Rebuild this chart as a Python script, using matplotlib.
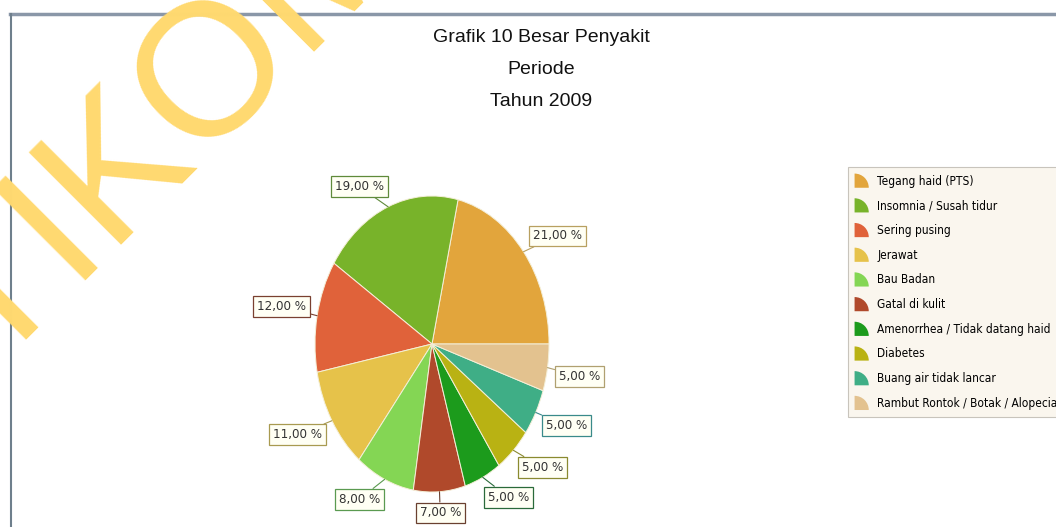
import matplotlib
matplotlib.use('Agg')
import numpy as np
import matplotlib.pyplot as plt
from matplotlib import font_manager
from matplotlib.font_manager import FontProperties
from matplotlib.patches import Wedge
from matplotlib.legend_handler import HandlerPatch
from matplotlib.lines import Line2D

# Data
penyakit = ['Tegang haid (PTS)', 'Insomnia / Susah tidur', 'Sering pusing', 'Jerawat',
            'Bau Badan', 'Gatal di kulit', 'Amenorrhea / Tidak datang haid', 'Diabetes',
            'Buang air tidak lancar', 'Rambut Rontok / Botak / Alopecia']
persen = [21, 19, 12, 11, 8, 7, 5, 5, 5, 5]
warna = ['#e2a53c', '#78b32a', '#e0623a', '#e6c24a', '#84d654',
         '#b0492b', '#1c9b1c', '#b9b213', '#3fae86', '#e3c28f']
warna_tepi = ['#b8a060', '#5f8a3a', '#7a4030', '#a89a50', '#5a9a50',
              '#6a4030', '#2a6a3a', '#8a8a30', '#3a8a8a', '#b0a070']
judul = ['Grafik 10 Besar Penyakit', 'Periode', 'Tahun 2009']

W, H = 1056, 527

# look for a narrow font (the original uses a condensed Tahoma-like face)
narrow_file = None
for f in font_manager.fontManager.ttflist:
    if f.style != 'normal' or f.weight not in (400, 'normal', 'regular'):
        continue
    if 'Narrow' in f.name or 'Condensed' in f.name or f.stretch in ('condensed', 'semi-condensed'):
        if narrow_file is None or 'Liberation' in f.name:
            narrow_file = f.fname
if narrow_file:
    fp_label = FontProperties(fname=narrow_file, size=9.5)
    fp_leg = FontProperties(fname=narrow_file, size=8.6)
else:
    fp_label = FontProperties(family='Roboto', size=8.5)
    fp_leg = FontProperties(family='Roboto', size=8)

fig = plt.figure(figsize=(W / 100, H / 100), dpi=100)
fig.patch.set_facecolor('white')

# pie axes (stretched -> elliptical pie like the original)
ax = fig.add_axes([315 / W, 1 - 492 / H, 234 / W, 296 / H])
wedges, _ = ax.pie(persen, colors=warna, startangle=0, counterclock=True,
                   wedgeprops=dict(edgecolor='#f4efd8', linewidth=0.7))
ax.set_aspect('auto')
ax.set_xlim(-1, 1)
ax.set_ylim(-1, 1)

# percentage labels with leader lines
for w, p, ec in zip(wedges, persen, warna_tepi):
    ang = np.deg2rad((w.theta1 + w.theta2) / 2)
    c, s = np.cos(ang), np.sin(ang)
    if c > 0.15:
        ha = 'left'
    elif c < -0.15:
        ha = 'right'
    else:
        ha = 'center'
    va = 'bottom' if s > 0 else 'top'
    ax.annotate(f'{p},00 %', xy=(c, s), xytext=(1.1 * c, 1.1 * s),
                ha=ha, va=va, fontproperties=fp_label, color='#333333',
                bbox=dict(boxstyle='square,pad=0.3', fc='#fffff4', ec=ec, lw=0.9),
                arrowprops=dict(arrowstyle='-', color=ec, lw=0.8, shrinkA=0, shrinkB=0))

# title
for i, t in enumerate(judul):
    fig.text(541 / W, 1 - (38 + 31.5 * i) / H, t, ha='center', va='center',
             fontsize=14, family='Liberation Sans', color='#111111')


# legend with quarter-circle icons
def quarter(legend, orig_handle, xdescent, ydescent, width, height, fontsize):
    r = min(width, height)
    return Wedge((-xdescent, -ydescent), r, 0, 90)


handles = [Wedge((0, 0), 1, 0, 90, facecolor=c) for c in warna]
leg = fig.legend(handles, penyakit, loc='upper left',
                 bbox_to_anchor=(848 / W, 1 - 167 / H), borderaxespad=0,
                 prop=fp_leg, fancybox=False,
                 handler_map={Wedge: HandlerPatch(patch_func=quarter)},
                 handlelength=1.55, handleheight=1.45, handletextpad=0.35,
                 labelspacing=0.88, borderpad=0.55)
leg.get_frame().set_facecolor('#faf6ee')
leg.get_frame().set_edgecolor('#c8c4bc')
leg.get_frame().set_linewidth(0.8)
leg.get_frame().set_alpha(1)

# window frame
fig.add_artist(Line2D([10 / W, 1], [1 - 14 / H, 1 - 14 / H], transform=fig.transFigure,
                      color='#8a97a8', lw=2.5))
fig.add_artist(Line2D([10.5 / W, 10.5 / W], [0, 1 - 14 / H], transform=fig.transFigure,
                      color='#6e7f8c', lw=1.5))

# watermark
fig.text(122 / W, 1 - 166 / H, 'STIKOM', rotation=45, rotation_mode='anchor',
         ha='center', va='center', fontsize=136, family='Liberation Sans',
         color='#ffd970', zorder=10)

fig.savefig('out.png', dpi=100)
